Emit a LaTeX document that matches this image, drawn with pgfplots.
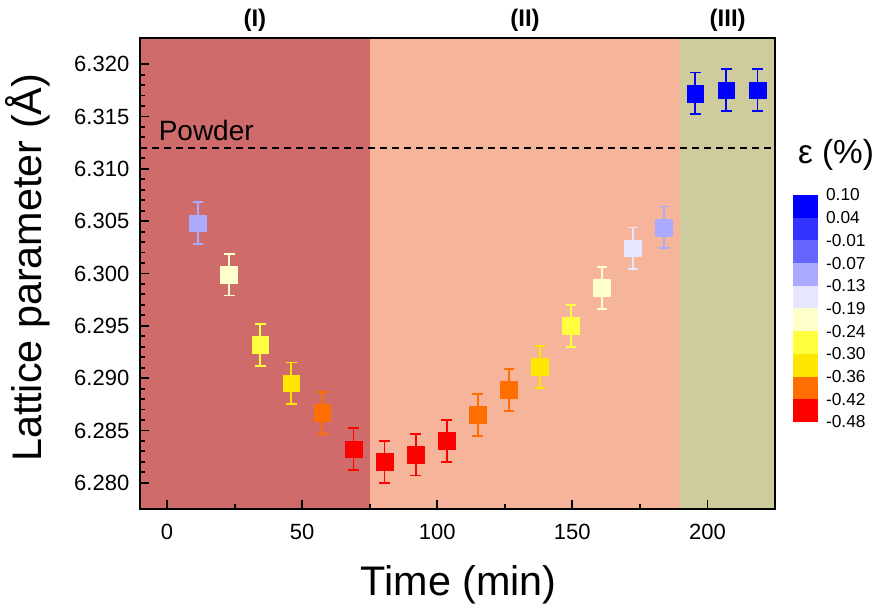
\documentclass[border=0pt]{standalone}
\usepackage{fontspec}
\setmainfont{Liberation Sans}
\usepackage{pgfplots}
\pgfplotsset{compat=1.18}
\definecolor{cB0}{HTML}{0000FF}
\definecolor{cB1}{HTML}{3333FF}
\definecolor{cB2}{HTML}{6666FF}
\definecolor{cB3}{HTML}{AAAAFF}
\definecolor{cB4}{HTML}{E6E6FF}
\definecolor{cY0}{HTML}{FFFFCC}
\definecolor{cY1}{HTML}{FFFF40}
\definecolor{cY2}{HTML}{FFE600}
\definecolor{cOr}{HTML}{FF6E00}
\definecolor{cRd}{HTML}{FF0000}
\definecolor{regA}{HTML}{CF6B6A}
\definecolor{regB}{HTML}{F6B59B}
\definecolor{regC}{HTML}{CECC9C}
\pgfplotsset{pt/.style={only marks, mark=square*, mark size=6.3pt, color=#1,
  mark options={fill=#1, draw=#1, line width=0.5pt},
  error bars/.cd, y dir=both, y explicit,
  error bar style={line width=1.4pt, #1},
  error mark options={rotate=90, mark size=4pt, line width=1.4pt, #1}}}
\begin{document}
\begin{tikzpicture}
\begin{axis}[
  name=main, at={(0pt,0pt)}, anchor=south west,
  width=476.25pt, height=353.25pt, scale only axis,
  xmin=-10, xmax=225, ymin=6.2775, ymax=6.3225,
  axis on top, clip=false,
  axis line style={line width=1.8pt},
  xtick={0,50,100,150,200}, minor x tick num=1,
  ytick={6.280,6.285,...,6.3201}, minor y tick num=4,
  xtick pos=bottom, ytick pos=left, tick align=inside,
  major tick length=7pt, minor tick length=3.5pt,
  every tick/.style={line width=1.4pt, black},
  /pgf/number format/assume math mode=true,
  yticklabel={\pgfmathprintnumber[fixed, fixed zerofill, precision=3]{\tick}},
  ticklabel style={font=\fontsize{16.5pt}{18pt}\selectfont},
  yticklabel style={xshift=-4.5pt},
  xticklabel style={yshift=-8pt},
  xlabel={Time (min)}, ylabel={Lattice parameter (Å)},
  label style={font=\fontsize{31pt}{36pt}\selectfont},
  xlabel style={at={(axis description cs:0.502,-0.16)}, anchor=center},
  ylabel style={at={(axis description cs:-0.177,0.512)}, anchor=center},
]
\addplot[fill=regA, draw=none] coordinates {(-10,6.2775) (75,6.2775) (75,6.3225) (-10,6.3225)} -- cycle;
\addplot[fill=regB, draw=none] coordinates {(75,6.2775) (190,6.2775) (190,6.3225) (75,6.3225)} -- cycle;
\addplot[fill=regC, draw=none] coordinates {(190,6.2775) (225,6.2775) (225,6.3225) (190,6.3225)} -- cycle;
\addplot[black, line width=1.1pt, dash pattern=on 5pt off 4pt] coordinates {(-10,6.312) (225,6.312)};
\node[anchor=base west, font=\fontsize{21pt}{24pt}\selectfont] at (axis cs:-4.8,6.3127) {Powder};
\node[font=\fontsize{18pt}{20pt}\selectfont\bfseries] at (axis cs:32.5,6.3242) {(I)};
\node[font=\fontsize{18pt}{20pt}\selectfont\bfseries] at (axis cs:132.5,6.3242) {(II)};
\node[font=\fontsize{18pt}{20pt}\selectfont\bfseries] at (axis cs:207.5,6.3242) {(III)};
\addplot[pt=cB3] coordinates {(11.5,6.3048) +- (0,0.002) (184.0,6.3044) +- (0,0.002)};
\addplot[pt=cY0] coordinates {(23.0,6.2999) +- (0,0.002) (161.0,6.2986) +- (0,0.002)};
\addplot[pt=cY1] coordinates {(34.5,6.2932) +- (0,0.002) (149.5,6.2950) +- (0,0.002)};
\addplot[pt=cY2] coordinates {(46.0,6.2895) +- (0,0.002) (138.0,6.2911) +- (0,0.002)};
\addplot[pt=cOr] coordinates {(57.5,6.2867) +- (0,0.002) (115.0,6.2865) +- (0,0.002) (126.5,6.2889) +- (0,0.002)};
\addplot[pt=cRd] coordinates {(69.0,6.2832) +- (0,0.002) (80.5,6.2820) +- (0,0.002) (92.0,6.2827) +- (0,0.002) (103.5,6.2840) +- (0,0.002)};
\addplot[pt=cB4] coordinates {(172.5,6.3024) +- (0,0.002)};
\addplot[pt=cB0] coordinates {(195.5,6.3172) +- (0,0.002) (207.0,6.3175) +- (0,0.002) (218.5,6.3175) +- (0,0.002)};
\end{axis}
\begin{axis}[
  at={(489.75pt,65.25pt)}, anchor=south west,
  width=18.75pt, height=170.25pt, scale only axis,
  xmin=0, xmax=1, ymin=0, ymax=10, clip=false,
  hide x axis, axis y line*=right, y axis line style={draw=none},
  ytick={0,1,...,10}, major tick length=0pt,
  yticklabels={-0.48,-0.42,-0.36,-0.30,-0.24,-0.19,-0.13,-0.07,-0.01,0.04,0.10},
  yticklabel style={font=\fontsize{13pt}{14pt}\selectfont, xshift=2.5pt},
]
\addplot[fill=cRd, draw=none] coordinates {(0,0) (1,0) (1,1) (0,1)} -- cycle;
\addplot[fill=cOr, draw=none] coordinates {(0,1) (1,1) (1,2) (0,2)} -- cycle;
\addplot[fill=cY2, draw=none] coordinates {(0,2) (1,2) (1,3) (0,3)} -- cycle;
\addplot[fill=cY1, draw=none] coordinates {(0,3) (1,3) (1,4) (0,4)} -- cycle;
\addplot[fill=cY0, draw=none] coordinates {(0,4) (1,4) (1,5) (0,5)} -- cycle;
\addplot[fill=cB4, draw=none] coordinates {(0,5) (1,5) (1,6) (0,6)} -- cycle;
\addplot[fill=cB3, draw=none] coordinates {(0,6) (1,6) (1,7) (0,7)} -- cycle;
\addplot[fill=cB2, draw=none] coordinates {(0,7) (1,7) (1,8) (0,8)} -- cycle;
\addplot[fill=cB1, draw=none] coordinates {(0,8) (1,8) (1,9) (0,9)} -- cycle;
\addplot[fill=cB0, draw=none] coordinates {(0,9) (1,9) (1,10) (0,10)} -- cycle;
\node[font=\fontsize{25pt}{28pt}\selectfont] at (axis description cs:1.72,1.176) {ε (\%)};
\end{axis}
\pgfresetboundingbox
\path[use as bounding box] (-105pt,-75pt) rectangle (557.25pt,381.75pt);
\end{tikzpicture}
\end{document}
